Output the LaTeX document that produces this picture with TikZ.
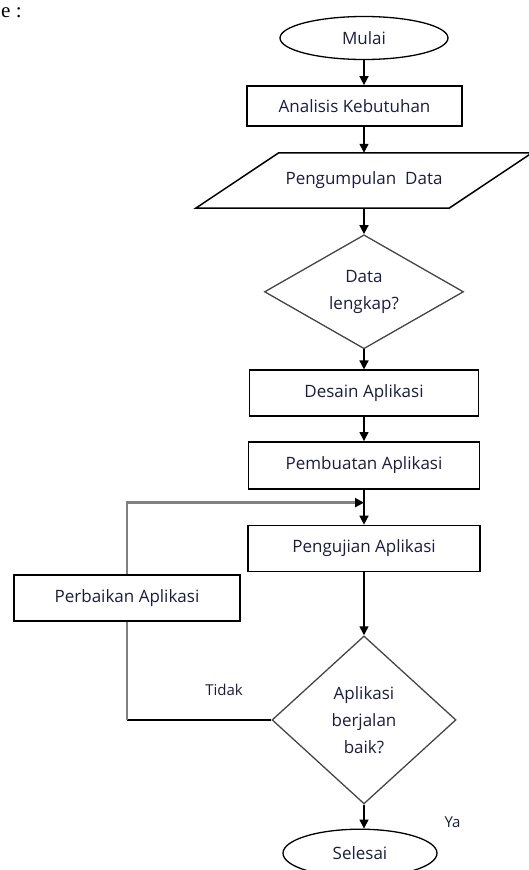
\documentclass[tikz,border=0pt]{standalone}
\usepackage{fontspec}
\setmainfont{Open Sans}
\newfontfamily\docserif{Liberation Serif}
\usetikzlibrary{arrows.meta,positioning,shapes.geometric}
\definecolor{wordtext}{RGB}{25,30,60}
\definecolor{loopgray}{RGB}{128,128,128}
\definecolor{edgegray}{RGB}{70,70,70}
\tikzset{
 procbox/.style={
 rectangle,
 draw=black,
 line width=1.6pt,
 align=center,
 minimum width=229pt,
 minimum height=46pt,
 inner sep=2pt,
 text=wordtext,
 font=\fontsize{17}{20}\selectfont
 },
 terminal/.style={
 ellipse,
 draw=black,
 line width=1.3pt,
 inner sep=0pt,
 text=wordtext,
 font=\fontsize{17}{20}\selectfont
 },
 decision/.style={
 diamond,
 draw=edgegray,
 line width=1.3pt,
 align=center,
 inner sep=0pt,
 text=wordtext,
 font=\fontsize{17}{27}\selectfont
 },
 iobox/.style={
 rectangle,
 inner sep=0pt,
 minimum width=253pt,
 minimum height=55pt,
 text=wordtext,
 font=\fontsize{17}{20}\selectfont
 },
 flowarrow/.style={-{Triangle[length=9pt,width=9pt]}, line width=1.5pt, draw=black},
 flowline/.style={line width=1.5pt, draw=black},
 loopline/.style={line width=2.4pt, draw=loopgray},
 branchlabel/.style={text=wordtext, font=\fontsize{15}{18}\selectfont}
}
\begin{document}
\begin{tikzpicture}[x=1pt, y=-1pt, node distance=25pt]
	\useasboundingbox (0,0) rectangle (528,870);
	\node[anchor=base west, inner sep=0pt, font=\docserif\fontsize{21}{24}\selectfont] (fragment) at (1,17) {e :};

	\node[terminal, minimum width=168pt, minimum height=43pt] (mulai) at (364,38) {Mulai};
	\node[procbox, minimum width=215pt, minimum height=40pt, below=25pt of mulai, xshift=-9.5pt] (analisis) {Analisis Kebutuhan};
	\node[iobox, below=26pt of analisis, xshift=9.5pt] (data) {Pengumpulan\ \ Data};
	\draw[line width=1.5pt] ([xshift=41.5pt]data.north west) -- ([xshift=41.5pt]data.north east)
		-- ([xshift=-41.5pt]data.south east) -- ([xshift=-41.5pt]data.south west) -- cycle;
	\node[decision, minimum width=199pt, minimum height=114pt, aspect=1.75, below=26pt of data] (lengkap) {Data\\lengkap?};
	\node[procbox, below=20pt of lengkap] (desain) {Desain Aplikasi};
	\node[procbox, minimum width=231pt, minimum height=47pt, below=24pt of desain] (pembuatan) {Pembuatan Aplikasi};
	\node[procbox, minimum width=232pt, below=35pt of pembuatan] (pengujian) {Pengujian Aplikasi};
	\node[decision, minimum width=184pt, minimum height=168pt, aspect=1.1, below=63pt of pengujian] (berjalan) {Aplikasi\\berjalan\\baik?};
	\node[terminal, minimum width=154pt, minimum height=48pt, below=24pt of berjalan, xshift=-4pt] (selesai) {Selesai};

	\node[procbox, minimum width=226pt] (perbaikan) at (127,598) {Perbaikan Aplikasi};
	\coordinate[below=13pt of pembuatan.south] (merge);

	\node[branchlabel] (tidak) at (224,690) {Tidak};
	\node[branchlabel, anchor=west] (ya) at (441,822) {Ya};

	\draw[flowarrow] (mulai) -- (mulai |- analisis.north);
	\draw[flowarrow] (analisis.south -| mulai) -- (data.north -| mulai);
	\draw[flowarrow] (data) -- (lengkap);
	\draw[flowarrow] (lengkap) -- (desain);
	\draw[flowarrow] (desain) -- (pembuatan);
	\draw[flowarrow] (pembuatan) -- (pengujian);
	\draw[flowarrow] (pengujian) -- (berjalan);
	\draw[flowarrow] (berjalan.south) -- (berjalan.south |- selesai.north);

	\draw[loopline, -{Triangle[length=9pt,width=9pt,color=black]}] (perbaikan.north) |- (merge);
	\draw[flowline] (berjalan.west) -- (berjalan.west -| perbaikan.south);
	\draw[loopline] (berjalan.west -| perbaikan.south) -- (perbaikan.south);
\end{tikzpicture}
\end{document}
